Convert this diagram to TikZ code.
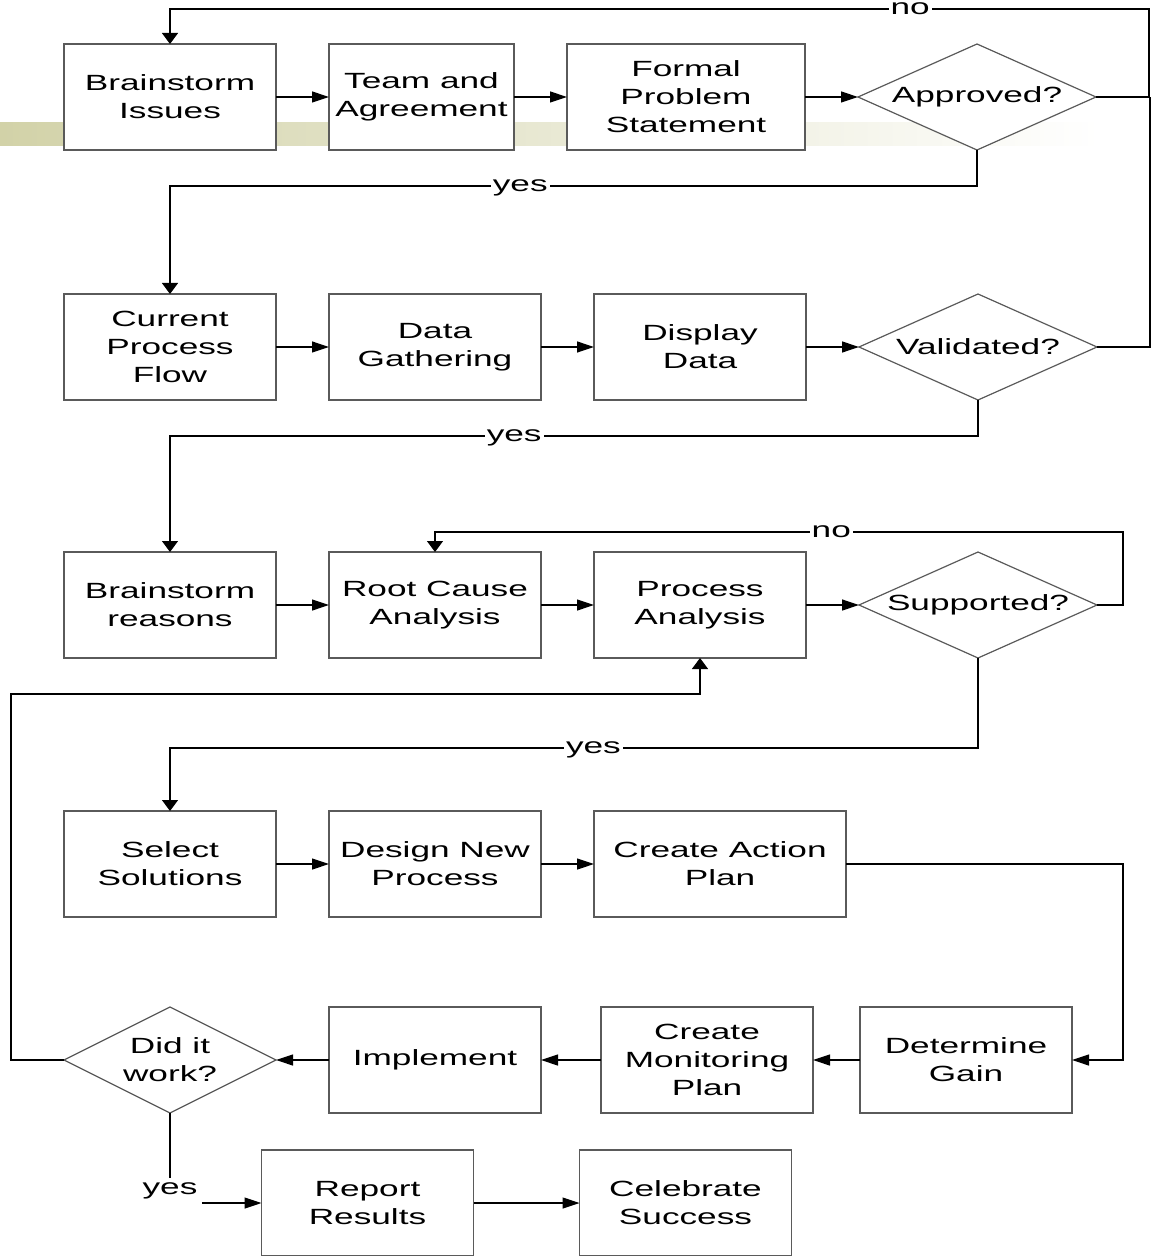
\documentclass[tikz,border=0pt]{standalone}
\usepackage{fontspec}
\setmainfont{Liberation Sans}[FakeStretch=1.6]
\usepackage{xcolor}
\usepackage{tikz}
\usetikzlibrary{shapes.geometric, arrows.meta, positioning}

\definecolor{barolive}{RGB}{210,210,168}
\definecolor{edgegray}{RGB}{90,90,90}

\begin{document}
\begin{tikzpicture}[
    x=0.5pt, y=-0.5pt,
    node distance=26.5pt,
    font=\fontsize{11}{14}\selectfont,
    box/.style={draw=edgegray, line width=0.7pt, rectangle, fill=white, minimum height=53pt, minimum width=106pt, inner sep=2pt, outer sep=0pt, align=center},
    decision/.style={draw=edgegray, line width=0.6pt, diamond, fill=white, minimum height=53pt, minimum width=119pt, inner sep=0pt, outer sep=0pt, aspect=2.2, align=center},
    lbl/.style={fill=white, inner sep=1pt, anchor=mid},
    harr/.style={draw=black, line width=0.6pt, -{Triangle[length=8.5pt, width=5.5pt]}},
    varr/.style={draw=black, line width=0.6pt, -{Triangle[length=5.5pt, width=8pt]}},
    link/.style={draw=black, line width=0.6pt}
]
\useasboundingbox (0,0) rectangle (1154,1256);
\clip (0,0) rectangle (1154,1255);

% Background bar
\shade[left color=barolive, right color=white] (0,123) rectangle (1100,146);

% Nodes
\node (issues) [box] at (170,97) {Brainstorm\\Issues};
\node (team) [box, minimum width=92.5pt, right=of issues] {Team and\\Agreement};
\node (formal) [box, minimum width=119pt, right=of team] {Formal\\Problem\\Statement};
\node (approved) [decision, right=of formal] {Approved?};

\node (current) [box] at (170,347) {Current\\Process\\Flow};
\node (gather) [box, right=of current] {Data\\Gathering};
\node (display) [box, right=of gather] {Display\\Data};
\node (validated) [decision, right=of display] {Validated?};

\node (reasons) [box] at (170,605) {Brainstorm\\reasons};
\node (rootcause) [box, right=of reasons] {Root Cause\\Analysis};
\node (procana) [box, right=of rootcause] {Process\\Analysis};
\node (supported) [decision, right=of procana] {Supported?};

\node (select) [box] at (170,864) {Select\\Solutions};
\node (design) [box, right=of select] {Design New\\Process};
\node (action) [box, minimum width=126pt, right=of design] {Create Action\\Plan};

\node (work) [decision, minimum width=106pt] at (170,1060) {Did it\\work?};
\node (implement) [box, right=of work] {Implement};
\node (monitor) [box, right=30pt of implement] {Create\\Monitoring\\Plan};
\node (gain) [box, right=23.5pt of monitor] {Determine\\Gain};

\node (report) [box] at (367.5,1203) {Report\\Results};
\node (celebrate) [box, right=53pt of report] {Celebrate\\Success};
\node (yeswork) [lbl, inner sep=2pt] at (170,1189) {yes};

% Arrows
\draw[harr] (issues) -- (team);
\draw[harr] (team) -- (formal);
\draw[harr] (formal) -- (approved);
\draw[varr] (approved.east) -| ++(53,-88) -| node[lbl, pos=0.122] {no} (issues.north);
\draw[varr] (approved.south) -- ++(0,36) -| node[lbl, pos=0.283] {yes} (current.north);

\draw[harr] (current) -- (gather);
\draw[harr] (gather) -- (display);
\draw[harr] (display) -- (validated);
\draw[link] (validated.east) -- ++(53,0) -- ++(0,-250);
\draw[varr] (validated.south) -- ++(0,36) -| node[lbl, pos=0.287] {yes} (reasons.north);

\draw[harr] (reasons) -- (rootcause);
\draw[harr] (rootcause) -- (procana);
\draw[harr] (procana) -- (supported);
\draw[varr] (supported.east) -| ++(26,-73) -| node[lbl, pos=0.212] {no} (rootcause.north);
\draw[varr] (supported.south) -- ++(0,90) -| node[lbl, pos=0.238] {yes} (select.north);

\draw[harr] (select) -- (design);
\draw[harr] (design) -- (action);
\draw[harr] (action.east) -- ++(277,0) |- (gain.east);

\draw[harr] (gain) -- (monitor);
\draw[harr] (monitor) -- (implement);
\draw[harr] (implement) -- (work);
\draw[varr] (work.west) -| ++(-53,-366) -| (procana.south);

\draw[link] (work.south) -- (yeswork.north);
\draw[harr] (yeswork.east |- report.west) -- (report.west);
\draw[harr] (report) -- (celebrate);

\end{tikzpicture}
\end{document}
